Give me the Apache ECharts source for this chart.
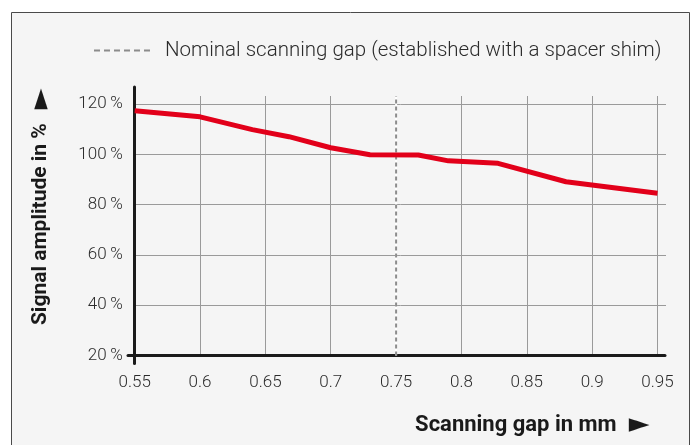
<!DOCTYPE html>
<html>
<head>
<meta charset="utf-8">
<script src="https://cdn.jsdelivr.net/npm/echarts@6/dist/echarts.min.js"></script>
<style>html,body{margin:0;padding:0;background:#fff}#c{width:696px;height:445px}</style>
</head>
<body>
<div id="c"></div>
<script>
// ---- data ----
const gap = [0.55, 0.60, 0.64, 0.668, 0.70, 0.73, 0.767, 0.79, 0.828, 0.88, 0.95];
const amplitude = [117.3, 114.9, 109.8, 107.0, 102.6, 99.8, 99.7, 97.4, 96.4, 89.1, 84.5];
const nominalGap = 0.75;
const xMin = 0.55, xMax = 0.95, xStep = 0.05;
const yMin = 20, yMax = 120, yStep = 20;
const legendName = 'Nominal scanning gap (established with a spacer shim)';
const xTitle = 'Scanning gap in mm';
const yTitle = 'Signal amplitude in %';

const FONT = 'Roboto';
const pts = gap.map((g, i) => [g, amplitude[i]]);

const chart = echarts.init(document.getElementById('c'), null, {renderer: 'canvas'});
const gridL = 134.7, gridR = 38.5, gridT = 104, gridB = 89.5;
const none = {show: false};

const option = {
  animation: false,
  backgroundColor: '#ffffff',
  graphic: [{
    type: 'rect', z: -100, silent: true,
    shape: {x: 11.5, y: 12.5, width: 678, height: 470},
    style: {fill: '#f5f5f5', stroke: '#4a4a4a', lineWidth: 1}
  }],
  legend: {
    data: [legendName],
    left: 88, top: 35,
    itemWidth: 58, itemHeight: 14,
    itemStyle: {opacity: 0},
    lineStyle: {type: [6, 4], width: 2, color: '#8c8c8c'},
    textStyle: {fontFamily: FONT, fontSize: 20.5, fontWeight: 300, color: '#2b2b2b', padding: [0, 0, 0, 8]}
  },
  grid: [
    {left: gridL, right: gridR, top: gridT, bottom: gridB},          // 0 main (data + labels)
    {left: gridL, right: gridR, top: 96, bottom: gridB},             // 1 vertical grid lines + nominal line
    {left: gridL, right: 30, top: gridT, bottom: gridB},             // 2 horizontal grid lines
    {left: 128, right: 31, top: gridT, bottom: gridB},               // 3 x axis line
    {left: gridL, right: gridR, top: 87, bottom: 81.5}               // 4 y axis line
  ],
  xAxis: [
    {gridIndex: 0, type: 'value', min: xMin, max: xMax, interval: xStep,
      axisLine: none, axisTick: none, splitLine: none,
      axisLabel: {margin: 19, fontFamily: FONT, fontSize: 17, fontWeight: 300, color: '#2b2b2b'},
      name: xTitle + '{a|►}', nameLocation: 'middle', nameGap: 56,
      nameTextStyle: {fontFamily: FONT, fontSize: 22, fontWeight: 'bold', color: '#1a1a1a', align: 'left', padding: [0, 0, 0, 19],
        rich: {a: {fontFamily: 'DejaVu Sans', fontSize: 27, color: '#1a1a1a', padding: [0, 0, 0, 12]}}}},
    {gridIndex: 1, type: 'value', min: xMin, max: xMax, interval: xStep,
      axisLine: none, axisTick: none, axisLabel: none,
      splitLine: {show: true, lineStyle: {color: '#9a9a9a', width: 1}}},
    {gridIndex: 2, type: 'value', min: xMin, max: xMax, show: true,
      axisLine: none, axisTick: none, axisLabel: none, splitLine: none},
    {gridIndex: 3, type: 'value', min: 0, max: 1, axisTick: none, axisLabel: none, splitLine: none,
      axisLine: {show: true, onZero: false, lineStyle: {color: '#1a1a1a', width: 3}}},
    {gridIndex: 4, type: 'value', min: 0, max: 1, axisLine: none, axisTick: none, axisLabel: none, splitLine: none}
  ],
  yAxis: [
    {gridIndex: 0, type: 'value', min: yMin, max: yMax, interval: yStep,
      axisLine: none, axisTick: none, splitLine: none,
      axisLabel: {margin: 12, formatter: v => v + '\u2009%', fontFamily: FONT, fontSize: 17, fontWeight: 300, color: '#2b2b2b'},
      name: yTitle + '{a|►}', nameLocation: 'middle', nameGap: 80, nameRotate: 90,
      nameTextStyle: {fontFamily: FONT, fontSize: 21, fontWeight: 'bold', color: '#1a1a1a', padding: [0, 0, 0, 46],
        rich: {a: {fontFamily: 'DejaVu Sans', fontSize: 27, color: '#1a1a1a', padding: [0, 0, 0, 14]}}}},
    {gridIndex: 1, type: 'value', min: 0, max: 1, axisLine: none, axisTick: none, axisLabel: none, splitLine: none},
    {gridIndex: 2, type: 'value', min: yMin, max: yMax, interval: yStep,
      axisLine: none, axisTick: none, axisLabel: none,
      splitLine: {show: true, lineStyle: {color: '#9a9a9a', width: 1}}},
    {gridIndex: 3, type: 'value', min: 0, max: 1, axisLine: none, axisTick: none, axisLabel: none, splitLine: none},
    {gridIndex: 4, type: 'value', min: 0, max: 1, axisTick: none, axisLabel: none, splitLine: none,
      axisLine: {show: true, onZero: false, lineStyle: {color: '#1a1a1a', width: 3}}}
  ],
  series: [
    {name: 'nominal-bg', type: 'line', xAxisIndex: 1, yAxisIndex: 1, symbol: 'none', silent: true, z: 3,
      data: [[nominalGap, 0], [nominalGap, 1]], lineStyle: {color: '#ffffff', width: 2}},
    {name: legendName, type: 'line', xAxisIndex: 1, yAxisIndex: 1, symbol: 'none', silent: true, z: 4,
      data: [[nominalGap, 0], [nominalGap, 1]], color: '#8c8c8c',
      lineStyle: {color: '#8c8c8c', width: 2, type: [4, 3]}},
    {name: 'Signal amplitude', type: 'line', xAxisIndex: 0, yAxisIndex: 0, symbol: 'none', z: 10,
      data: pts, color: '#e2001a', lineStyle: {color: '#e2001a', width: 5, join: 'round'}}
  ]
};
chart.setOption(option);
</script>
</body>
</html>
